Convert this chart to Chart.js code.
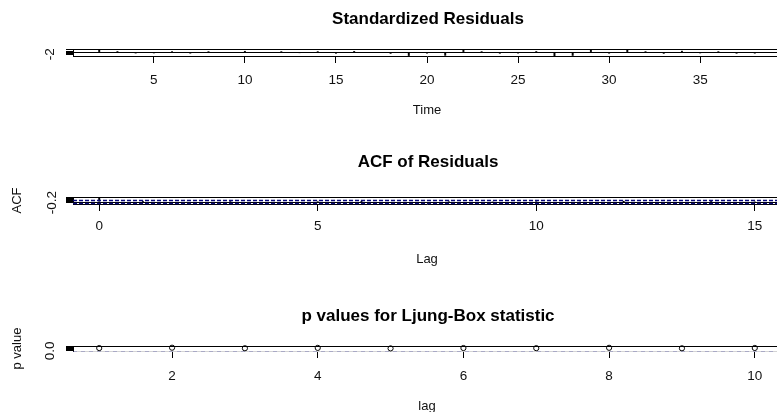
<!DOCTYPE html>
<html lang="en">
<head>
  <meta charset="UTF-8" />
  <title>Diagnostics des résidus</title>
  <script src="https://cdn.jsdelivr.net/npm/chart.js"></script>
  <style>
    html, body { margin: 0; padding: 0; background: #fff; overflow: hidden; }
    .page { position: relative; width: 777px; height: 412px; overflow: hidden; background: #fff; }
    .page canvas { position: absolute; left: 0; }
    #resChart { top: 0; }
    #acfChart { top: 143px; }
    #lbChart { top: 297px; }
  </style>
</head>
<body>
  <div class="page">
    <canvas id="resChart" width="856" height="118"></canvas>
    <canvas id="acfChart" width="856" height="124"></canvas>
    <canvas id="lbChart" width="856" height="117"></canvas>
  </div>

  <script>
    // Standardized residuals
    const resTime = [2, 3, 4, 5, 6, 7, 8, 9, 10, 11, 12, 13, 14, 15, 16, 17, 18, 19, 20,
                     21, 22, 23, 24, 25, 26, 27, 28, 29, 30, 31, 32, 33, 34, 35, 36, 37, 38];
    const resValues = [2.3, 0.6, -0.9, -0.8, 0.4, -1.0, 0.3, -0.5, 0.8, -0.2, 0.5, -0.6, 0.2,
                       -1.1, 0.7, -0.3, -1.2, -3.2, -1.0, -3.0, 2.4, 0.5, -1.1, -0.9, 0.6, -3.4,
                       -3.1, 2.2, -1.0, 2.5, 0.3, -1.2, 0.9, -0.8, 0.4, -1.1, -1.0];
    const timeTicks = [5, 10, 15, 20, 25, 30, 35];
    const resTicks = [-2, -1, 0, 1, 2];
    const resTickLabels = ['-2', '-1', '0', '1', '2'];
    const resZero = [0];

    // ACF of residuals
    const acfLags = [0, 1, 2, 3, 4, 5, 6, 7, 8, 9, 10, 11, 12, 13, 14, 15];
    const acfValues = [1, 0.05, -0.12, 0.08, -0.2, 0.1, 0.03, -0.15, 0.12, -0.05, 0.18,
                       -0.08, 0.02, -0.1, 0.06, -0.04];
    const lagTicks = [0, 5, 10, 15];
    const acfTicks = [-0.2, 0, 0.2, 0.4, 0.6, 0.8, 1.0];
    const acfTickLabels = ['-0.2', '0.0', '0.2', '0.4', '0.6', '0.8', '1.0'];
    const acfBounds = [0.32, -0.32];

    // p values for Ljung-Box statistic
    const lbLags = [1, 2, 3, 4, 5, 6, 7, 8, 9, 10];
    const lbPValues = [0.62, 0.7, 0.58, 0.66, 0.55, 0.63, 0.6, 0.68, 0.57, 0.64];
    const lbTicks = [2, 4, 6, 8, 10];
    const pTicks = [0, 0.2, 0.4, 0.6, 0.8, 1.0];
    const pTickLabels = ['0.0', '0.2', '0.4', '0.6', '0.8', '1.0'];
    const pLimit = [0.05];

    Chart.defaults.font.family = "'Liberation Sans', Arial, sans-serif";
    Chart.defaults.color = '#000';

    // top edge of the box (left / bottom come from the axis borders)
    const frame = {
      id: 'frame',
      afterDraw(chart) {
        const { ctx, chartArea: a } = chart;
        const y = Math.round(a.top) + 0.5;
        ctx.save();
        ctx.strokeStyle = '#000';
        ctx.lineWidth = 1;
        ctx.beginPath();
        ctx.moveTo(a.left, y);
        ctx.lineTo(a.right, y);
        ctx.stroke();
        ctx.restore();
      }
    };

    // abline(h = ...)
    const hLines = {
      id: 'hLines',
      afterDatasetsDraw(chart, args, opts) {
        const { ctx, chartArea: a, scales } = chart;
        (opts.lines || []).forEach(l => {
          const y = Math.round(scales.y.getPixelForValue(l.value)) + 0.5;
          ctx.save();
          ctx.strokeStyle = l.color;
          ctx.lineWidth = l.width || 1;
          ctx.setLineDash(l.dash || []);
          ctx.beginPath();
          ctx.moveTo(a.left, y);
          ctx.lineTo(a.right, y);
          ctx.stroke();
          ctx.restore();
        });
      }
    };

    function xAxis(ticks, min, max, title, height, pad, borderColor) {
      return {
        type: 'linear', min, max, offset: false,
        afterBuildTicks: s => { s.ticks = ticks.map(v => ({ value: v })); },
        afterFit: s => { s.height = height; },
        grid: { drawOnChartArea: false, drawTicks: true, tickLength: 7, color: '#000', offset: false },
        border: { color: borderColor, width: 1 },
        ticks: { autoSkip: false, maxRotation: 0, minRotation: 0, padding: pad,
                 font: { size: 13.5 }, color: '#111', callback: v => String(v) },
        title: { display: true, text: title, font: { size: 13 }, color: '#111',
                 padding: { top: 0, bottom: 0 } }
      };
    }

    function yAxis(ticks, labels, min, max, title, pad) {
      return {
        type: 'linear', min, max,
        afterBuildTicks: s => { s.ticks = ticks.map(v => ({ value: v })); },
        afterFit: s => { s.width = 73; },
        grid: { drawOnChartArea: false, tickLength: 7, color: '#000' },
        border: { color: '#000', width: 1 },
        ticks: {
          autoSkip: false, minRotation: 90, maxRotation: 90, crossAlign: 'center', padding: pad,
          font: { size: 13.5 }, color: '#111',
          // the squashed axis only has room for the first label
          callback: (v, i) => i === 0 ? labels[0] : ''
        },
        title: { display: title !== '', text: title, font: { size: 13 }, color: '#111',
                 padding: { top: 9.7, bottom: 0 } }
      };
    }

    // empty right margin so the box runs past the window edge
    const rightPad = {
      position: 'right', afterFit: s => { s.width = 75; },
      grid: { display: false }, border: { display: false }, ticks: { display: false }
    };

    function baseOptions(title, padBottom, lines, scales) {
      return {
        responsive: false, animation: false, devicePixelRatio: 1, events: [],
        plugins: {
          legend: { display: false },
          tooltip: { enabled: false },
          title: { display: true, text: title, color: '#000',
                   font: { size: 17, weight: 'bold' }, padding: { top: 9.5, bottom: padBottom } },
          hLines: { lines }
        },
        scales
      };
    }

    // Standardized Residuals
    new Chart(document.getElementById('resChart'), {
      type: 'bar',
      data: {
        datasets: [{
          data: resTime.map((t, i) => ({ x: t, y: resValues[i] })),
          backgroundColor: '#000', borderWidth: 0, barThickness: 1.3
        }]
      },
      options: baseOptions('Standardized Residuals', 19.1,
        resZero.map(v => ({ value: v, color: '#000' })),
        {
          x: xAxis(timeTicks, 0.56, 39.44, 'Time', 62, 9, '#000'),
          y: yAxis(resTicks, resTickLabels, -3.6, 2.9, '', 10),
          yPad: rightPad
        }),
      plugins: [frame, hLines]
    });

    // ACF of Residuals
    new Chart(document.getElementById('acfChart'), {
      type: 'bar',
      data: {
        datasets: [{
          data: acfLags.map((l, i) => ({ x: l, y: acfValues[i] })),
          backgroundColor: '#000', borderWidth: 0, barThickness: 1.3
        }]
      },
      options: baseOptions('ACF of Residuals', 24.1,
        [{ value: 0, color: '#000' }].concat(
          acfBounds.map(v => ({ value: v, color: '#0a0a78', width: 1.6, dash: [4, 2] }))),
        {
          x: xAxis(lagTicks, -0.6, 15.6, 'Lag', 63, 7.5, '#000'),
          y: yAxis(acfTicks, acfTickLabels, -0.5, 1.05, 'ACF', 2.4),
          yPad: rightPad
        }),
      plugins: [frame, hLines]
    });

    // p values for Ljung-Box statistic
    new Chart(document.getElementById('lbChart'), {
      type: 'scatter',
      data: {
        datasets: [{
          data: lbLags.map((l, i) => ({ x: l, y: lbPValues[i] })),
          pointStyle: 'circle', pointRadius: 2.6, borderWidth: 1,
          borderColor: '#000', backgroundColor: 'rgba(0,0,0,0)', clip: false
        }]
      },
      options: baseOptions('p values for Ljung-Box statistic', 19.3,
        pLimit.map(v => ({ value: v, color: 'rgba(90,90,170,0.35)', dash: [4, 4] })),
        {
          x: xAxis(lbTicks, 0.64, 10.36, 'lag', 63, 10, '#d4d4d4'),
          y: yAxis(pTicks, pTickLabels, -0.04, 1.04, 'p value', 6.6),
          yPad: rightPad
        }),
      plugins: [frame, hLines]
    });
  </script>
</body>
</html>
